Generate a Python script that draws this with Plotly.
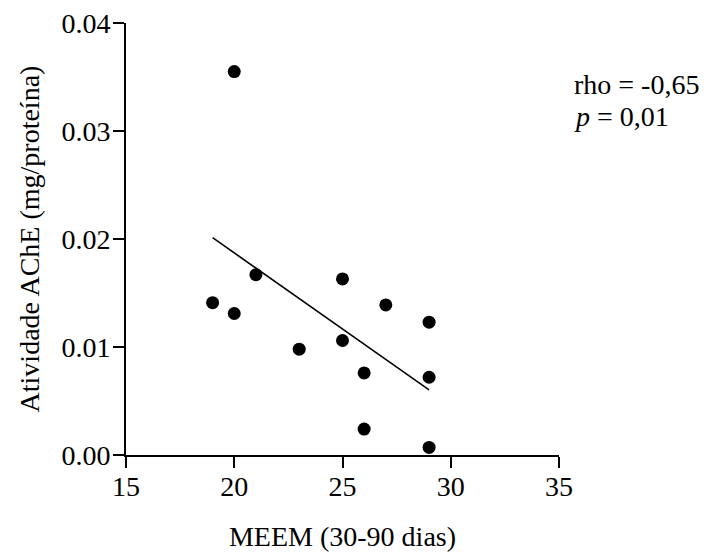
import numpy as np
import plotly.graph_objects as go

# MEEM score (30-90 days) and AChE activity per subject
meem = [20, 19, 20, 21, 23, 25, 25, 26, 26, 27, 29, 29, 29]
ache = [0.0355, 0.0141, 0.0131, 0.0167, 0.0098, 0.0163, 0.0106,
        0.0076, 0.0024, 0.0139, 0.0123, 0.0072, 0.0007]

x_ticks = [15, 20, 25, 30, 35]
y_ticks = [0.00, 0.01, 0.02, 0.03, 0.04]

# least-squares fit drawn over the observed MEEM range
slope, intercept = np.polyfit(meem, ache, 1)
fit_x = [min(meem), max(meem)]
fit_y = [slope * v + intercept for v in fit_x]

FONT = "Liberation Serif, Times New Roman, serif"

fig = go.Figure()
fig.add_trace(go.Scatter(
    x=fit_x, y=fit_y, mode="lines",
    line=dict(color="black", width=1.6), hoverinfo="skip",
))
fig.add_trace(go.Scatter(
    x=meem, y=ache, mode="markers",
    marker=dict(color="black", size=13, line=dict(width=0)),
))

axis_common = dict(
    showline=True, linecolor="black", linewidth=2,
    ticks="outside", ticklen=11, tickwidth=2, tickcolor="black",
    showgrid=False, zeroline=False, automargin=False,
    tickfont=dict(family=FONT, size=28, color="black"),
)

fig.update_layout(
    width=707, height=554,
    margin=dict(l=126, r=148, t=23, b=99),
    paper_bgcolor="white", plot_bgcolor="white",
    showlegend=False,
    font=dict(family=FONT, size=28, color="black"),
    xaxis=dict(
        range=[15, 35], tickvals=x_ticks, ticktext=[str(v) for v in x_ticks],
        ticklabelstandoff=-6,
        title=dict(text="MEEM (30-90 dias)", standoff=26,
                   font=dict(family=FONT, size=28, color="black")),
        **axis_common,
    ),
    yaxis=dict(
        range=[0, 0.04], tickvals=y_ticks, ticktext=[f"{v:.2f}" for v in y_ticks],
        ticklabelstandoff=-3,
        title=dict(text="Atividade AChE (mg/proteína)", standoff=14,
                   font=dict(family=FONT, size=28, color="black")),
        **axis_common,
    ),
)

fig.add_annotation(
    xref="paper", yref="paper", x=1.03, y=0.857, xanchor="left", yanchor="middle",
    text="rho = -0,65", showarrow=False,
    font=dict(family=FONT, size=28, color="black"),
)
fig.add_annotation(
    xref="paper", yref="paper", x=1.03, y=0.783, xanchor="left", yanchor="middle",
    text="<i>p</i> = 0,01", showarrow=False,
    font=dict(family=FONT, size=28, color="black"),
)

fig.write_html("out.html")
